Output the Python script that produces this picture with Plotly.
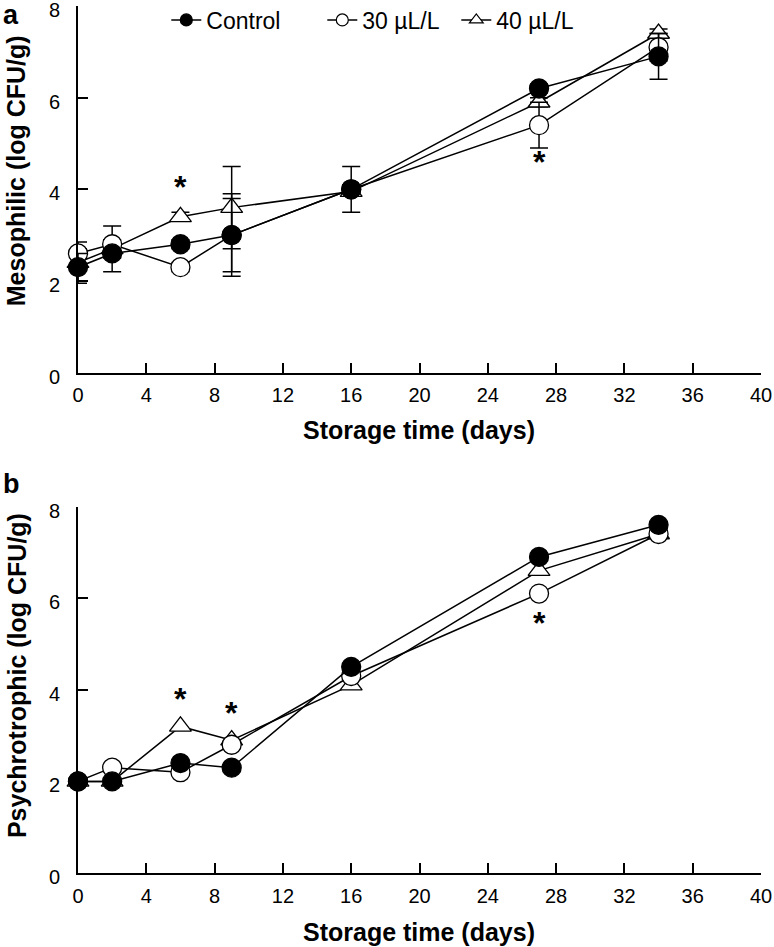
import plotly.graph_objects as go

days = [0, 2, 6, 9, 16, 27, 34]
series_names = ["Control", "30 µL/L", "40 µL/L"]

# Panel a: mesophilic
meso_control = [2.3, 2.6, 2.8, 3.0, 4.0, 6.2, 6.9]
meso_30 = [2.6, 2.8, 2.3, 3.0, 4.0, 5.4, 7.1]
meso_40 = [2.4, 2.7, 3.4, 3.6, 3.95, 5.9, 7.4]
meso_control_err = [0.3, 0.1, 0.1, 0.9, 0.5, 0.1, 0.5]
meso_30_err = [0.1, 0.1, 0.1, 0.8, 0.1, 0.5, 0.3]
meso_40_err = [0.45, 0.5, 0.1, 0.9, 0.1, 0.1, 0.1]

# Panel b: psychrotrophic
psy_control = [2.0, 2.0, 2.4, 2.3, 4.5, 6.9, 7.6]
psy_30 = [2.0, 2.3, 2.2, 2.8, 4.3, 6.1, 7.4]
psy_40 = [2.0, 2.0, 3.2, 2.9, 4.1, 6.6, 7.4]

# significance marks (day, y)
meso_star_x = [6, 27]
meso_star_y = [4.05, 4.6]
psy_star_x = [6, 9, 27]
psy_star_y = [3.8, 3.5, 5.45]

x_ticks = [0, 4, 8, 12, 16, 20, 24, 28, 32, 36, 40]
y_ticks = [0, 2, 4, 6, 8]
y_tick_labels = ["0", "2", "4", "6", "8"]

W, H = 774, 947
ML, MR, MT, MB = 77.7, 13.3, 6.0, 73.7
PW, PH = W - ML - MR, H - MT - MB


def px(xp):
    return (xp - ML) / PW


def py(yp):
    return (H - MB - yp) / PH


ydom_a = [py(372.7), py(6)]
ydom_b = [max(0.0, py(873.3)), py(506.7)]

SANS = "Liberation Sans, Arial, sans-serif"

styles = {
    "Control": dict(symbol="circle", color="black", size=19),
    "30 µL/L": dict(symbol="circle", color="white", size=19),
    "40 µL/L": dict(symbol="triangle-up", color="white", size=19),
}

fig = go.Figure()


def add_panel(vals, errs, xa, ya):
    for i in [2, 1, 0]:  # draw control on top
        name = series_names[i]
        st = styles[name]
        err = errs[i] if errs is not None else None
        fig.add_trace(go.Scatter(
            x=days, y=vals[i], mode="lines+markers", name=name,
            showlegend=False, xaxis=xa, yaxis=ya, cliponaxis=False,
            line=dict(color="black", width=1.5),
            marker=dict(symbol=st["symbol"], color=st["color"], size=st["size"],
                        line=dict(color="black", width=1.3)),
            error_y=(dict(type="data", array=err, visible=True, color="black",
                          thickness=1.5, width=9) if err is not None else None),
        ))


add_panel([meso_control, meso_30, meso_40],
          [meso_control_err, meso_30_err, meso_40_err], "x", "y")
add_panel([psy_control, psy_30, psy_40], None, "x2", "y2")

# legend entries, each in its own legend box so they can be placed like the original
legend_ids = ["legend", "legend2", "legend3"]
legend_text_x = [207, 363, 497]
for name, lid in zip(series_names, legend_ids):
    st = styles[name]
    fig.add_trace(go.Scatter(
        x=[None], y=[None], mode="lines+markers", name=name, xaxis="x", yaxis="y",
        legend=lid, showlegend=True,
        line=dict(color="black", width=1.5),
        marker=dict(symbol=st["symbol"], color=st["color"], size=12,
                    line=dict(color="black", width=1.2)),
    ))

ann = []
for xs, ys, xr, yr in [(meso_star_x, meso_star_y, "x", "y"), (psy_star_x, psy_star_y, "x2", "y2")]:
    for xv, yv in zip(xs, ys):
        ann.append(dict(x=xv, y=yv, xref=xr, yref=yr, text="<b>*</b>", showarrow=False,
                        font=dict(size=32, family=SANS, color="black"), yanchor="middle"))

# y tick labels (placed on the axis scale, nudged slightly down like the original)
for yr in ["y", "y2"]:
    for tv, tl in zip(y_ticks, y_tick_labels):
        ann.append(dict(x=px(62), y=tv, xref="paper", yref=yr, text=tl, showarrow=False,
                        xanchor="right", yanchor="middle", yshift=-4,
                        font=dict(size=20, family=SANS, color="black")))

ann += [
    dict(x=px(1), y=py(-2), xref="paper", yref="paper", text="<b>a</b>", showarrow=False,
         xanchor="left", yanchor="top", font=dict(size=27, family=SANS, color="black")),
    dict(x=px(1), y=py(467), xref="paper", yref="paper", text="<b>b</b>", showarrow=False,
         xanchor="left", yanchor="top", font=dict(size=27, family=SANS, color="black")),
    dict(x=px(16), y=py(171), xref="paper", yref="paper", text="<b>Mesophilic (log CFU/g)</b>",
         showarrow=False, textangle=-90, xanchor="center", yanchor="middle",
         font=dict(size=25, family=SANS, color="black")),
    dict(x=px(16), y=py(676), xref="paper", yref="paper", text="<b>Psychrotrophic (log CFU/g)</b>",
         showarrow=False, textangle=-90, xanchor="center", yanchor="middle",
         font=dict(size=25, family=SANS, color="black")),
    dict(x=px(419), y=py(430), xref="paper", yref="paper", text="<b>Storage time (days)</b>",
         showarrow=False, xanchor="center", yanchor="middle",
         font=dict(size=25, family=SANS, color="black")),
    dict(x=px(419), y=py(932), xref="paper", yref="paper", text="<b>Storage time (days)</b>",
         showarrow=False, xanchor="center", yanchor="middle",
         font=dict(size=25, family=SANS, color="black")),
]

xax = dict(range=[0, 40], tickvals=x_ticks, ticks="inside", ticklen=10, tickwidth=1.5,
           showline=True, linewidth=1.5, linecolor="black", showgrid=False, zeroline=False,
           tickfont=dict(size=20, family=SANS, color="black"), domain=[0, 1],
           tickcolor="black", automargin=False, ticklabelstandoff=4, ticklabeloverflow="allow")
yax = dict(range=[0, 8], tickvals=y_ticks, ticks="inside", ticklen=10, tickwidth=1.5,
           showline=True, linewidth=1.5, linecolor="black", showgrid=False, zeroline=False,
           showticklabels=False, tickcolor="black", automargin=False)

layout = dict(
    width=W, height=H, margin=dict(l=ML, r=MR, t=MT, b=MB, autoexpand=False),
    plot_bgcolor="white", paper_bgcolor="white",
    xaxis=dict(**xax, anchor="y"),
    yaxis=dict(**yax, domain=ydom_a, anchor="x"),
    xaxis2=dict(**xax, anchor="y2"),
    yaxis2=dict(**yax, domain=ydom_b, anchor="x2"),
    annotations=ann,
    showlegend=True,
)
for lid, tx in zip(legend_ids, legend_text_x):
    layout[lid] = dict(x=px(tx - 41), y=py(20), xanchor="left", yanchor="middle",
                       orientation="h", font=dict(size=23, family=SANS, color="black"),
                       bgcolor="rgba(0,0,0,0)")
fig.update_layout(**layout)

fig.write_html("out.html", config={"displayModeBar": False},
               post_script="document.body.style.margin='0';document.body.style.overflow='hidden';")
